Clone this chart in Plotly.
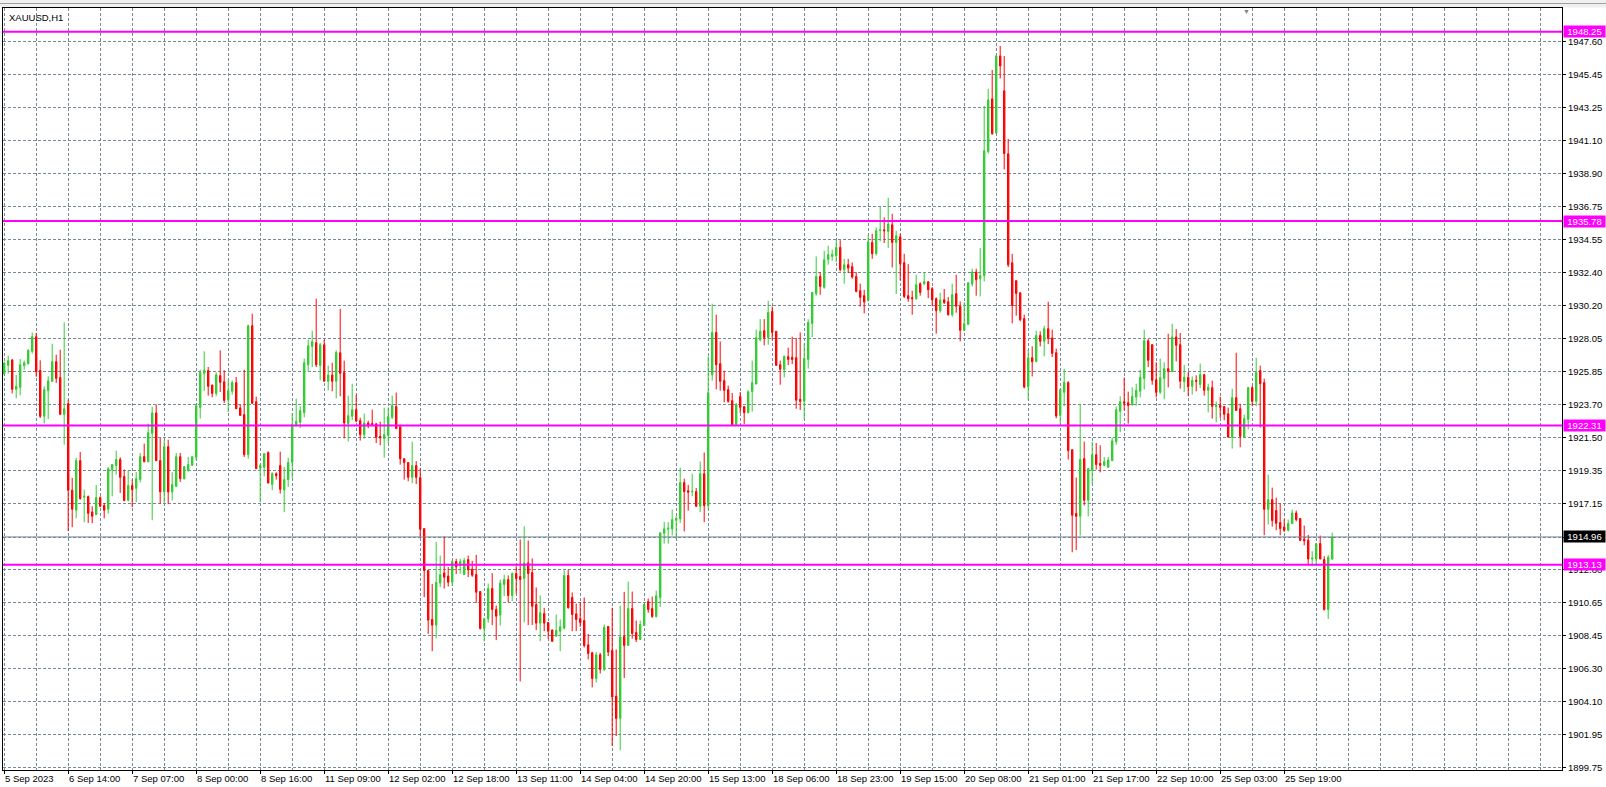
import plotly.graph_objects as go

symbol = "XAUUSD,H1"

open_ = [
    1925.70, 1926.27, 1926.62, 1924.69, 1924.82, 1926.25, 1926.38, 1927.19, 1928.16, 1925.94,
    1922.91, 1924.60, 1925.22, 1926.51, 1925.46, 1923.04, 1923.74, 1918.04, 1916.72, 1919.99,
    1917.58, 1917.62, 1916.61, 1916.43, 1917.55, 1917.03, 1916.79, 1919.40, 1919.66, 1920.06,
    1918.94, 1917.38, 1918.35, 1918.17, 1918.74, 1920.25, 1919.92, 1921.79, 1923.13, 1919.99,
    1917.93, 1920.91, 1917.93, 1918.30, 1920.25, 1918.80, 1919.33, 1919.68, 1920.21, 1923.50,
    1925.74, 1925.92, 1924.97, 1924.42, 1925.59, 1925.19, 1924.01, 1924.56, 1925.13, 1923.46,
    1923.02, 1920.38, 1928.88, 1923.87, 1919.49, 1919.55, 1920.52, 1918.43, 1919.13, 1919.66,
    1918.06, 1918.74, 1919.88, 1922.36, 1922.52, 1923.15, 1926.31, 1927.52, 1927.76, 1926.25,
    1927.63, 1925.22, 1925.63, 1925.22, 1927.10, 1925.79, 1922.43, 1922.91, 1923.35, 1922.62,
    1921.70, 1922.47, 1922.43, 1922.41, 1921.59, 1921.44, 1921.66, 1922.84, 1923.55, 1922.23,
    1920.12, 1919.86, 1918.89, 1919.66, 1918.87, 1915.51, 1912.75, 1909.52, 1909.15, 1911.93,
    1912.59, 1912.38, 1911.98, 1913.34, 1913.10, 1912.48, 1913.47, 1912.83, 1912.48, 1911.36,
    1908.93, 1909.56, 1911.56, 1910.18, 1909.81, 1911.82, 1912.15, 1911.10, 1912.55, 1912.35,
    1912.22, 1913.25, 1912.61, 1910.51, 1909.28, 1909.91, 1909.32, 1908.82, 1908.42, 1908.75,
    1908.95, 1912.42, 1910.97, 1909.89, 1909.58, 1909.45, 1907.85, 1907.32, 1905.63, 1907.19,
    1906.23, 1909.06, 1907.48, 1904.47, 1903.00, 1908.40, 1907.81, 1910.24, 1908.66, 1908.20,
    1909.12, 1910.70, 1910.24, 1909.72, 1910.97, 1915.20, 1915.47, 1915.49, 1916.06, 1916.15,
    1918.54, 1918.01, 1917.93, 1917.95, 1916.98, 1919.13, 1917.03, 1925.65, 1928.44, 1926.38,
    1925.26, 1924.67, 1923.94, 1922.36, 1924.21, 1923.55, 1923.15, 1924.53, 1925.04, 1927.96,
    1928.55, 1928.11, 1929.82, 1928.51, 1926.31, 1925.99, 1926.84, 1926.80, 1926.77, 1924.03,
    1923.90, 1926.66, 1929.03, 1930.99, 1932.13, 1931.41, 1933.25, 1933.45, 1933.49, 1934.04,
    1932.57, 1932.90, 1932.77, 1932.13, 1931.19, 1930.86, 1930.55, 1934.37, 1933.64, 1935.16,
    1935.20, 1935.09, 1935.53, 1934.37, 1934.74, 1933.03, 1930.86, 1930.73, 1930.66, 1931.65,
    1931.65, 1931.78, 1931.32, 1930.66, 1929.87, 1930.59, 1930.46, 1929.61, 1930.99, 1930.16,
    1928.58, 1928.97, 1931.63, 1932.42, 1931.98, 1932.18, 1940.36, 1943.83, 1941.59, 1946.66,
    1944.36, 1940.21, 1933.03, 1931.85, 1931.05, 1929.35, 1924.86, 1926.77, 1926.51, 1928.24,
    1927.85, 1928.68, 1928.07, 1927.10, 1922.97, 1924.49, 1925.13, 1920.71, 1916.50, 1916.32,
    1920.12, 1917.38, 1919.35, 1920.38, 1919.81, 1919.68, 1919.55, 1919.99, 1921.24, 1923.24,
    1923.87, 1923.81, 1923.68, 1924.18, 1924.56, 1925.41, 1927.89, 1927.63, 1925.32, 1924.49,
    1925.41, 1926.05, 1925.87, 1928.14, 1927.63, 1925.19, 1925.48, 1924.89, 1925.28, 1925.00,
    1925.65, 1924.62, 1924.80, 1923.55, 1923.63, 1923.55, 1923.08, 1921.54, 1924.14, 1923.41,
    1921.54, 1922.71, 1924.80, 1923.90, 1925.92, 1925.13, 1916.78, 1917.42, 1916.70, 1915.91,
    1915.62, 1915.40, 1915.84, 1916.54, 1916.17, 1914.81, 1914.74, 1913.51, 1913.51, 1914.52,
    1913.47, 1910.18, 1913.51,
]

high = [
    1926.51, 1926.91, 1926.69, 1925.63, 1926.69, 1926.58, 1927.32, 1928.44, 1928.40, 1926.60,
    1924.89, 1925.55, 1927.70, 1926.97, 1927.30, 1929.10, 1924.01, 1918.85, 1920.17, 1920.56,
    1918.08, 1917.69, 1916.98, 1918.39, 1917.64, 1917.20, 1919.55, 1919.75, 1920.65, 1920.21,
    1919.40, 1919.38, 1918.74, 1919.24, 1920.49, 1921.11, 1922.43, 1923.55, 1923.68, 1921.48,
    1921.31, 1921.37, 1919.22, 1920.49, 1920.49, 1919.64, 1920.23, 1920.27, 1923.63, 1925.98,
    1927.19, 1926.16, 1924.99, 1925.81, 1927.26, 1925.94, 1925.32, 1925.28, 1925.50, 1923.68,
    1925.98, 1928.95, 1929.67, 1924.20, 1919.73, 1920.47, 1920.60, 1919.22, 1919.22, 1920.58,
    1919.57, 1920.17, 1923.13, 1924.07, 1923.57, 1926.71, 1927.96, 1928.55, 1930.66, 1927.74,
    1927.96, 1926.25, 1926.44, 1927.26, 1930.00, 1926.58, 1924.27, 1925.06, 1924.34, 1922.82,
    1923.09, 1922.62, 1923.35, 1922.47, 1922.56, 1923.48, 1923.50, 1924.27, 1924.47, 1922.32,
    1920.12, 1919.86, 1921.24, 1919.95, 1919.49, 1915.51, 1912.75, 1911.87, 1914.63, 1913.73,
    1914.99, 1912.97, 1913.41, 1913.52, 1913.52, 1913.58, 1913.73, 1913.38, 1913.78, 1911.36,
    1909.63, 1911.89, 1912.57, 1910.44, 1912.15, 1912.48, 1912.42, 1912.64, 1913.03, 1914.79,
    1915.66, 1914.72, 1913.54, 1911.63, 1911.10, 1910.29, 1909.34, 1908.86, 1909.85, 1909.52,
    1912.77, 1912.81, 1911.30, 1910.57, 1910.66, 1910.97, 1908.57, 1907.39, 1907.37, 1907.32,
    1909.19, 1909.08, 1910.29, 1907.54, 1910.44, 1911.34, 1912.02, 1911.36, 1909.45, 1909.45,
    1910.57, 1910.90, 1911.03, 1911.43, 1915.27, 1915.95, 1915.93, 1916.76, 1916.32, 1919.53,
    1918.80, 1918.39, 1919.13, 1918.19, 1919.93, 1920.52, 1926.86, 1930.33, 1929.61, 1927.85,
    1925.92, 1924.93, 1924.45, 1923.79, 1924.51, 1923.57, 1924.62, 1926.58, 1928.62, 1929.32,
    1929.32, 1930.53, 1930.15, 1928.51, 1926.58, 1926.91, 1927.43, 1928.16, 1928.07, 1928.44,
    1927.72, 1929.30, 1931.10, 1933.45, 1932.41, 1933.82, 1934.15, 1933.89, 1934.52, 1934.52,
    1933.29, 1933.29, 1933.05, 1932.41, 1931.65, 1931.25, 1934.83, 1934.94, 1935.36, 1936.74,
    1936.02, 1937.31, 1936.26, 1935.14, 1934.94, 1933.62, 1932.94, 1931.19, 1932.24, 1931.74,
    1932.42, 1931.80, 1931.43, 1930.75, 1931.05, 1931.30, 1930.77, 1931.65, 1932.24, 1930.48,
    1930.42, 1931.74, 1932.64, 1932.64, 1934.00, 1943.37, 1944.49, 1945.74, 1946.71, 1947.32,
    1946.66, 1941.20, 1933.62, 1931.87, 1931.08, 1929.61, 1927.30, 1927.52, 1928.55, 1928.51,
    1928.88, 1930.46, 1928.62, 1927.37, 1924.69, 1926.05, 1925.22, 1920.71, 1918.87, 1923.74,
    1921.24, 1919.49, 1921.24, 1921.15, 1921.00, 1920.23, 1920.23, 1921.50, 1923.57, 1924.23,
    1925.46, 1924.53, 1924.82, 1925.06, 1925.98, 1928.62, 1928.00, 1927.65, 1926.47, 1926.71,
    1926.47, 1928.35, 1929.01, 1928.66, 1928.40, 1926.31, 1925.83, 1925.55, 1925.61, 1926.38,
    1925.72, 1925.06, 1925.26, 1923.88, 1924.20, 1923.57, 1923.48, 1924.73, 1927.10, 1923.74,
    1923.02, 1924.86, 1924.93, 1926.77, 1926.25, 1925.39, 1919.07, 1918.21, 1917.55, 1917.16,
    1916.13, 1916.10, 1916.76, 1916.70, 1916.19, 1915.71, 1915.09, 1914.02, 1914.55, 1915.05,
    1913.69, 1913.76, 1915.25,
]

low = [
    1925.65, 1925.72, 1924.42, 1924.10, 1924.29, 1925.98, 1926.33, 1927.04, 1925.52, 1922.80,
    1922.43, 1922.73, 1925.19, 1925.11, 1923.02, 1921.04, 1915.35, 1915.60, 1916.19, 1917.42,
    1915.93, 1915.88, 1915.86, 1916.41, 1916.92, 1916.19, 1916.50, 1917.64, 1919.07, 1917.86,
    1917.31, 1917.31, 1916.92, 1917.25, 1918.56, 1919.88, 1919.88, 1916.06, 1919.95, 1917.14,
    1917.20, 1917.12, 1917.38, 1918.26, 1918.59, 1918.74, 1919.27, 1919.66, 1919.99, 1922.76,
    1924.58, 1924.27, 1924.16, 1924.23, 1924.51, 1923.79, 1923.19, 1924.34, 1923.39, 1922.95,
    1920.23, 1920.12, 1923.74, 1919.44, 1917.25, 1918.96, 1918.48, 1918.04, 1918.74, 1917.82,
    1916.59, 1918.26, 1918.85, 1922.25, 1922.14, 1922.84, 1925.87, 1926.16, 1926.16, 1925.28,
    1925.22, 1924.62, 1924.56, 1924.10, 1924.23, 1921.46, 1921.26, 1922.65, 1922.52, 1921.31,
    1921.44, 1922.12, 1922.34, 1921.15, 1921.00, 1920.19, 1921.11, 1922.73, 1922.10, 1919.73,
    1918.74, 1918.63, 1918.50, 1918.45, 1914.88, 1910.99, 1908.58, 1907.43, 1908.27, 1911.65,
    1911.56, 1911.69, 1911.72, 1912.51, 1912.53, 1912.48, 1912.31, 1912.33, 1910.62, 1908.86,
    1908.09, 1909.30, 1909.15, 1908.16, 1909.12, 1911.06, 1910.66, 1910.73, 1911.23, 1905.44,
    1909.34, 1909.15, 1909.15, 1908.82, 1908.09, 1908.75, 1908.25, 1908.03, 1908.40, 1907.43,
    1908.86, 1910.24, 1908.75, 1908.75, 1909.04, 1907.67, 1906.89, 1905.04, 1905.37, 1905.96,
    1906.12, 1907.10, 1901.20, 1901.84, 1900.90, 1905.66, 1907.81, 1908.25, 1908.03, 1908.18,
    1909.08, 1909.96, 1909.63, 1909.65, 1910.35, 1914.52, 1914.52, 1915.05, 1914.83, 1915.88,
    1915.33, 1916.70, 1917.64, 1916.96, 1916.59, 1915.93, 1916.77, 1925.26, 1924.69, 1924.60,
    1923.83, 1923.81, 1922.27, 1922.34, 1923.13, 1922.41, 1923.11, 1923.22, 1925.02, 1927.85,
    1927.59, 1927.63, 1927.96, 1926.25, 1924.99, 1925.48, 1926.29, 1926.36, 1923.41, 1923.33,
    1922.71, 1926.05, 1928.13, 1930.86, 1930.92, 1931.32, 1932.90, 1933.16, 1933.07, 1932.46,
    1931.65, 1932.35, 1931.98, 1931.08, 1930.15, 1929.69, 1930.48, 1933.29, 1933.51, 1934.44,
    1934.33, 1934.00, 1932.72, 1930.97, 1931.87, 1930.70, 1930.46, 1929.61, 1930.59, 1930.86,
    1931.54, 1930.70, 1930.16, 1928.36, 1929.74, 1930.31, 1929.54, 1929.47, 1929.74, 1927.85,
    1928.53, 1928.95, 1931.47, 1930.86, 1930.81, 1931.80, 1940.23, 1941.46, 1941.54, 1945.17,
    1939.18, 1932.75, 1929.04, 1929.54, 1929.17, 1924.75, 1923.96, 1925.54, 1926.51, 1927.52,
    1926.86, 1927.67, 1926.82, 1922.78, 1922.36, 1923.57, 1920.06, 1913.95, 1914.10, 1915.05,
    1917.03, 1916.32, 1918.47, 1919.40, 1919.22, 1919.62, 1919.51, 1919.95, 1921.04, 1921.86,
    1923.30, 1922.43, 1923.61, 1923.61, 1924.16, 1924.67, 1926.16, 1924.99, 1924.16, 1924.40,
    1924.03, 1924.82, 1925.85, 1926.53, 1924.73, 1924.51, 1924.23, 1924.34, 1924.56, 1924.78,
    1924.27, 1923.17, 1922.76, 1922.51, 1922.80, 1922.65, 1921.53, 1920.78, 1923.28, 1920.87,
    1921.48, 1922.05, 1923.57, 1923.57, 1922.17, 1915.07, 1915.78, 1915.64, 1915.40, 1915.07,
    1915.29, 1915.33, 1915.82, 1915.99, 1914.68, 1914.41, 1913.10, 1913.03, 1913.14, 1913.49,
    1910.11, 1909.55, 1913.43,
]

close = [
    1926.42, 1926.58, 1924.69, 1924.89, 1926.31, 1926.44, 1927.26, 1928.16, 1925.85, 1922.91,
    1924.67, 1925.24, 1926.51, 1925.41, 1923.04, 1923.41, 1918.04, 1916.79, 1919.99, 1917.49,
    1917.64, 1916.52, 1916.32, 1917.55, 1916.98, 1916.72, 1919.46, 1919.73, 1920.06, 1918.89,
    1917.36, 1918.35, 1918.08, 1918.80, 1920.25, 1919.92, 1921.83, 1923.13, 1919.99, 1917.93,
    1920.91, 1917.93, 1918.41, 1920.25, 1918.80, 1919.59, 1919.73, 1920.25, 1923.61, 1925.79,
    1925.94, 1924.89, 1924.42, 1925.65, 1925.15, 1923.96, 1924.60, 1925.13, 1923.41, 1922.97,
    1920.38, 1928.88, 1923.77, 1919.46, 1919.68, 1920.45, 1918.52, 1919.13, 1919.00, 1918.10,
    1918.74, 1919.86, 1922.36, 1922.56, 1923.28, 1926.44, 1927.56, 1927.83, 1926.31, 1927.63,
    1925.22, 1925.63, 1925.22, 1927.12, 1925.74, 1922.47, 1922.95, 1923.35, 1922.60, 1921.70,
    1922.47, 1922.32, 1922.38, 1921.53, 1921.48, 1921.70, 1922.89, 1923.63, 1922.10, 1920.12,
    1919.86, 1918.89, 1919.66, 1918.89, 1915.47, 1912.75, 1909.48, 1909.15, 1911.96, 1912.48,
    1912.31, 1911.98, 1913.34, 1912.99, 1913.34, 1913.41, 1912.79, 1912.44, 1911.32, 1908.93,
    1909.56, 1911.56, 1910.18, 1909.74, 1911.91, 1912.15, 1911.10, 1912.55, 1912.22, 1912.15,
    1913.25, 1912.55, 1910.39, 1909.28, 1909.96, 1909.28, 1908.75, 1908.09, 1908.79, 1909.04,
    1912.42, 1910.29, 1909.85, 1909.52, 1909.32, 1907.81, 1907.28, 1905.63, 1907.19, 1906.23,
    1909.01, 1907.37, 1904.41, 1903.00, 1908.36, 1907.81, 1910.24, 1908.60, 1908.20, 1909.19,
    1910.51, 1910.18, 1909.72, 1911.08, 1915.23, 1915.49, 1915.53, 1916.10, 1916.19, 1918.54,
    1917.95, 1917.90, 1917.97, 1916.98, 1919.13, 1917.03, 1924.47, 1928.44, 1926.31, 1925.22,
    1924.62, 1923.90, 1922.36, 1923.68, 1923.50, 1923.15, 1924.53, 1925.13, 1928.09, 1928.51,
    1928.11, 1929.76, 1928.44, 1926.27, 1926.01, 1926.86, 1926.66, 1926.66, 1923.97, 1923.90,
    1926.73, 1929.10, 1931.08, 1932.13, 1931.47, 1933.23, 1933.56, 1933.58, 1934.04, 1932.57,
    1932.90, 1932.68, 1932.09, 1931.14, 1930.75, 1930.44, 1934.41, 1933.62, 1935.14, 1935.20,
    1935.14, 1935.58, 1934.37, 1934.81, 1932.96, 1930.81, 1930.66, 1930.66, 1931.58, 1931.08,
    1931.78, 1931.25, 1930.59, 1929.87, 1930.57, 1930.40, 1929.61, 1930.92, 1930.16, 1928.58,
    1929.01, 1931.71, 1932.42, 1931.91, 1932.18, 1940.41, 1943.76, 1941.54, 1946.66, 1946.00,
    1940.23, 1932.90, 1930.22, 1931.01, 1929.28, 1924.84, 1926.77, 1926.51, 1928.24, 1927.85,
    1928.68, 1928.03, 1927.06, 1922.93, 1924.67, 1925.15, 1920.65, 1916.39, 1916.32, 1920.06,
    1917.38, 1919.46, 1920.38, 1919.73, 1919.68, 1919.92, 1920.03, 1921.29, 1923.35, 1923.87,
    1923.77, 1923.63, 1924.23, 1924.62, 1925.48, 1927.89, 1926.60, 1925.28, 1924.49, 1925.46,
    1926.05, 1925.87, 1928.14, 1927.59, 1925.22, 1925.48, 1924.86, 1925.28, 1925.22, 1925.65,
    1924.62, 1924.82, 1923.57, 1923.63, 1923.50, 1923.04, 1921.54, 1924.14, 1923.30, 1921.59,
    1922.76, 1924.80, 1923.90, 1925.81, 1925.06, 1916.78, 1917.42, 1916.04, 1915.86, 1915.51,
    1915.40, 1915.84, 1916.54, 1916.10, 1914.74, 1914.70, 1913.51, 1913.58, 1914.52, 1913.51,
    1910.18, 1913.62, 1914.96,
]

x_tick_labels = [
    "5 Sep 2023", "6 Sep 14:00", "7 Sep 07:00", "8 Sep 00:00", "8 Sep 16:00",
    "11 Sep 09:00", "12 Sep 02:00", "12 Sep 18:00", "13 Sep 11:00", "14 Sep 04:00",
    "14 Sep 20:00", "15 Sep 13:00", "18 Sep 06:00", "18 Sep 23:00", "19 Sep 15:00",
    "20 Sep 08:00", "21 Sep 01:00", "21 Sep 17:00", "22 Sep 10:00", "25 Sep 03:00",
    "25 Sep 19:00",
]
bars_per_label = 16
bars_per_grid = 8

y_tick_labels = [
    "1947.60", "1945.45", "1943.25", "1941.10", "1938.90", "1936.75", "1934.55",
    "1932.40", "1930.20", "1928.05", "1925.85", "1923.70", "1921.50", "1919.35",
    "1917.15", "1914.95", "1912.80", "1910.65", "1908.45", "1906.30", "1904.10",
    "1901.95", "1899.75",
]

level_lines = [1948.25, 1935.78, 1922.31, 1913.13]
bid_price = 1914.96

n = min(len(open_), len(high), len(low), len(close))
bars = list(range(n))

GREEN = "#32CD32"
RED = "#FF0000"
GRID = "#778899"
MAGENTA = "#FF00FF"
FONT = "Liberation Sans, Arial, sans-serif"

fig = go.Figure(
    go.Candlestick(
        x=bars, open=open_[:n], high=high[:n], low=low[:n], close=close[:n],
        increasing=dict(line=dict(color=GREEN, width=1), fillcolor=GREEN),
        decreasing=dict(line=dict(color=RED, width=1), fillcolor=RED),
        whiskerwidth=0, showlegend=False, hoverinfo="skip",
    )
)

label_pos = [k * bars_per_label for k in range(len(x_tick_labels))]

W, H = 1606, 787
ml, mr, mt, mb = 3, 44, 8, 17
pw, ph = W - ml - mr, H - mt - mb

fig.update_layout(
    width=W, height=H,
    margin=dict(l=ml, r=mr, t=mt, b=mb, pad=0),
    paper_bgcolor="white", plot_bgcolor="white",
    boxgap=0.5,
    font=dict(family=FONT, size=9.5, color="black"),
    xaxis=dict(
        range=[-0.3, 389.45], rangeslider=dict(visible=False),
        tickmode="array", tickvals=label_pos, showticklabels=False,
        ticks="outside", ticklen=3, tickcolor="black", tickwidth=1,
        showgrid=True, gridcolor=GRID, gridwidth=1, griddash="3px,2px",
        minor=dict(tickmode="linear", tick0=0, dtick=bars_per_grid, showgrid=True,
                   gridcolor=GRID, gridwidth=1, griddash="3px,2px", ticks=""),
        showline=True, mirror=True, linecolor="black", linewidth=1, zeroline=False,
    ),
    yaxis=dict(
        side="right", range=[1899.60, 1949.82],
        tickmode="array", tickvals=[float(t) for t in y_tick_labels], ticktext=y_tick_labels,
        ticks="outside", ticklen=3, tickcolor="black", tickwidth=1,
        tickfont=dict(family=FONT, size=9.5, color="black"),
        showgrid=True, gridcolor=GRID, gridwidth=1, griddash="3px,2px",
        showline=True, mirror=True, linecolor="black", linewidth=1, zeroline=False,
    ),
)

shapes = []
# window strip above chart
shapes.append(dict(type="rect", xref="paper", yref="paper", x0=-ml / pw, x1=1 + mr / pw,
                   y0=1 + 0.5 / ph, y1=1 + mt / ph, fillcolor="#f0f0f0", line=dict(width=0), layer="below"))
shapes.append(dict(type="line", xref="paper", yref="paper", x0=-ml / pw, x1=1 + mr / pw,
                   y0=1 + 4.5 / ph, y1=1 + 4.5 / ph, line=dict(color="#a0a0a0", width=1)))
for v in level_lines:
    shapes.append(dict(type="line", xref="paper", yref="y", x0=0, x1=1, y0=v, y1=v,
                       line=dict(color=MAGENTA, width=2)))
shapes.append(dict(type="line", xref="paper", yref="y", x0=0, x1=1, y0=bid_price, y1=bid_price,
                   line=dict(color=GRID, width=1)))
fig.update_layout(shapes=shapes)

ann = []
ann.append(dict(text=symbol, xref="paper", yref="paper", x=0, y=1, xanchor="left", yanchor="top",
                xshift=4, yshift=-2, showarrow=False, font=dict(family=FONT, size=9.5, color="black")))
for pos, lab in zip(label_pos, x_tick_labels):
    ann.append(dict(text=lab, xref="x", yref="paper", x=pos, y=0, xanchor="left", yanchor="top",
                    xshift=-1, yshift=-1, showarrow=False, font=dict(family=FONT, size=9.5, color="black")))
for v in level_lines:
    ann.append(dict(text=f"{v:.2f}", xref="paper", yref="y", x=1, y=v, xanchor="left", yanchor="middle",
                    xshift=1, showarrow=False, bgcolor=MAGENTA, borderpad=0, width=41, height=11,
                    align="center", font=dict(family=FONT, size=9.5, color="white")))
ann.append(dict(text=f"{bid_price:.2f}", xref="paper", yref="y", x=1, y=bid_price, xanchor="left",
                yanchor="middle", xshift=1, showarrow=False, bgcolor="black", borderpad=0, width=41,
                height=11, align="center", font=dict(family=FONT, size=9.5, color="white")))
ann.append(dict(text="▼", xref="paper", yref="paper", x=(1246 - ml) / pw, y=1, xanchor="center",
                yanchor="top", yshift=2, showarrow=False, font=dict(size=7, color="#808080")))
fig.update_layout(annotations=ann)

fig.write_html(
    "out.html",
    config={"displayModeBar": False, "staticPlot": True},
    post_script="document.body.style.margin='0';document.body.style.padding='0';"
                "document.documentElement.style.overflow='hidden';",
)
